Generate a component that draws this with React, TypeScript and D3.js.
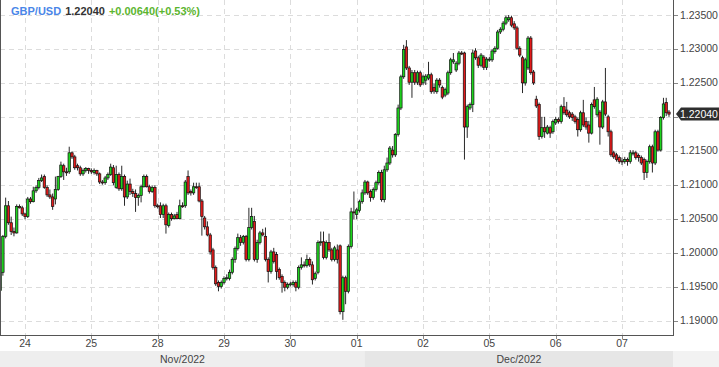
import React from "react";
import * as d3 from "d3";

// GBP/USD hourly candles, first candle = Nov 23 15:00
const opens = [1.1944,1.1971,1.2024,1.2069,1.2044,1.2031,1.2029,1.2068,1.2066,1.2057,1.2053,1.2079,1.2075,1.2091,1.2096,1.2106,1.2112,1.2096,1.2085,1.2082,1.2079,1.2093,1.2112,1.2128,1.2119,1.2119,1.2147,1.2141,1.2128,1.2125,1.2116,1.2121,1.2124,1.2121,1.2118,1.2121,1.2116,1.2104,1.2103,1.2110,1.2115,1.2125,1.2096,1.2115,1.2094,1.2112,1.2082,1.2101,1.2090,1.2087,1.2081,1.2084,1.2097,1.2112,1.2097,1.2090,1.2096,1.2069,1.2069,1.2056,1.2069,1.2040,1.2056,1.2050,1.2056,1.2050,1.2069,1.2069,1.2112,1.2090,1.2088,1.2097,1.2097,1.2076,1.2051,1.2038,1.2026,1.2004,1.1978,1.1956,1.1950,1.1956,1.1962,1.1962,1.1971,1.1990,1.2006,1.2022,1.2015,1.2024,1.1990,1.2037,1.2046,1.1990,1.2015,1.2029,1.2024,1.1990,1.1972,1.2001,1.1997,1.1975,1.1965,1.1956,1.1949,1.1953,1.1953,1.1956,1.1949,1.1978,1.1982,1.1981,1.1990,1.1982,1.1962,1.1971,1.2015,1.2016,1.1993,1.2015,1.2004,1.1990,1.2004,1.2010,1.1913,1.1963,1.1943,1.2009,1.2060,1.2056,1.2062,1.2075,1.2088,1.2104,1.2090,1.2081,1.2093,1.2103,1.2118,1.2078,1.2122,1.2132,1.2151,1.2144,1.2174,1.2213,1.2259,1.2303,1.2272,1.2251,1.2265,1.2251,1.2265,1.2250,1.2254,1.2257,1.2262,1.2243,1.2237,1.2254,1.2243,1.2232,1.2235,1.2265,1.2281,1.2269,1.2279,1.2294,1.2294,1.2185,1.2213,1.2218,1.2297,1.2287,1.2276,1.2288,1.2273,1.2284,1.2284,1.2296,1.2301,1.2325,1.2329,1.2338,1.2343,1.2346,1.2337,1.2331,1.2301,1.2287,1.2250,1.2272,1.2316,1.2266,1.2226,1.2218,1.2171,1.2184,1.2176,1.2184,1.2178,1.2191,1.2196,1.2193,1.2215,1.2210,1.2206,1.2204,1.2200,1.2196,1.2181,1.2206,1.2193,1.2188,1.2176,1.2225,1.2203,1.2207,1.2185,1.2222,1.2200,1.2178,1.2147,1.2144,1.2140,1.2135,1.2134,1.2137,1.2134,1.2146,1.2147,1.2143,1.2140,1.2137,1.2118,1.2134,1.2156,1.2132,1.2178,1.2151,1.2199,1.2221,1.2207];
const highs = [1.1978,1.2026,1.2081,1.2076,1.2053,1.2037,1.2071,1.2071,1.2069,1.2059,1.2082,1.2082,1.2097,1.2099,1.2110,1.2115,1.2115,1.2099,1.2093,1.2087,1.2112,1.2113,1.2134,1.2131,1.2125,1.2156,1.2149,1.2144,1.2131,1.2128,1.2124,1.2126,1.2125,1.2124,1.2124,1.2122,1.2118,1.2107,1.2113,1.2118,1.2131,1.2129,1.2128,1.2118,1.2128,1.2115,1.2106,1.2109,1.2094,1.2093,1.2087,1.2100,1.2115,1.2115,1.2100,1.2099,1.2099,1.2072,1.2074,1.2072,1.2072,1.2059,1.2059,1.2057,1.2060,1.2078,1.2074,1.2107,1.2121,1.2093,1.2103,1.2103,1.2103,1.2079,1.2054,1.2046,1.2029,1.2007,1.1981,1.1959,1.1959,1.1965,1.1968,1.1975,1.1993,1.2009,1.2028,1.2026,1.2026,1.2026,1.2066,1.2066,1.2054,1.2019,1.2032,1.2035,1.2037,1.1993,1.2004,1.2007,1.2001,1.1978,1.1968,1.1959,1.1956,1.1957,1.1959,1.1959,1.1981,1.1993,1.1987,1.1997,1.1993,1.1987,1.1972,1.2018,1.2031,1.2031,1.2018,1.2028,1.2007,1.2010,1.2012,1.2012,1.1966,1.1966,1.2012,1.2066,1.2090,1.2066,1.2078,1.2093,1.2107,1.2106,1.2093,1.2096,1.2106,1.2121,1.2122,1.2128,1.2140,1.2157,1.2157,1.2176,1.2218,1.2262,1.2306,1.2313,1.2275,1.2269,1.2269,1.2268,1.2268,1.2262,1.2263,1.2281,1.2265,1.2249,1.2257,1.2257,1.2246,1.2243,1.2268,1.2287,1.2294,1.2282,1.2297,1.2297,1.2296,1.2218,1.2221,1.2299,1.2301,1.2290,1.2294,1.2291,1.2288,1.2288,1.2300,1.2304,1.2328,1.2332,1.2341,1.2349,1.2350,1.2349,1.2341,1.2334,1.2304,1.2290,1.2287,1.2319,1.2319,1.2269,1.2231,1.2221,1.2200,1.2200,1.2188,1.2187,1.2196,1.2200,1.2199,1.2218,1.2229,1.2222,1.2209,1.2207,1.2203,1.2199,1.2209,1.2225,1.2199,1.2194,1.2221,1.2244,1.2229,1.2210,1.2225,1.2272,1.2203,1.2181,1.2150,1.2147,1.2143,1.2140,1.2141,1.2140,1.2151,1.2151,1.2150,1.2146,1.2143,1.2140,1.2137,1.2159,1.2159,1.2181,1.2181,1.2201,1.2228,1.2228,1.2210];
const lows = [1.1940,1.1966,1.2021,1.2041,1.2026,1.2024,1.2028,1.2065,1.2054,1.2049,1.2051,1.2072,1.2074,1.2088,1.2093,1.2104,1.2094,1.2082,1.2079,1.2063,1.2071,1.2091,1.2110,1.2107,1.2113,1.2116,1.2138,1.2122,1.2121,1.2113,1.2113,1.2118,1.2116,1.2116,1.2115,1.2113,1.2101,1.2100,1.2100,1.2107,1.2113,1.2099,1.2094,1.2091,1.2091,1.2069,1.2079,1.2085,1.2082,1.2060,1.2069,1.2074,1.2096,1.2096,1.2087,1.2088,1.2066,1.2065,1.2051,1.2051,1.2028,1.2037,1.2047,1.2049,1.2049,1.2049,1.2066,1.2066,1.2085,1.2084,1.2085,1.2094,1.2074,1.2025,1.2034,1.2024,1.1997,1.1975,1.1951,1.1943,1.1947,1.1953,1.1959,1.1959,1.1968,1.1985,1.2003,1.2010,1.2012,1.1987,1.1987,1.2034,1.1987,1.1985,1.2012,1.2024,1.1987,1.1956,1.1969,1.1984,1.1960,1.1960,1.1941,1.1943,1.1946,1.1950,1.1950,1.1943,1.1946,1.1975,1.1978,1.1978,1.1979,1.1953,1.1959,1.1968,1.2010,1.1990,1.1990,1.2001,1.1987,1.1987,1.1984,1.1909,1.1901,1.1924,1.1940,1.2006,1.2049,1.2049,1.2059,1.2072,1.2085,1.2085,1.2075,1.2078,1.2090,1.2100,1.2075,1.2074,1.2119,1.2129,1.2140,1.2141,1.2171,1.2210,1.2256,1.2269,1.2247,1.2228,1.2247,1.2247,1.2244,1.2247,1.2247,1.2254,1.2234,1.2234,1.2234,1.2243,1.2226,1.2229,1.2232,1.2262,1.2278,1.2266,1.2276,1.2291,1.2137,1.2169,1.2210,1.2207,1.2284,1.2272,1.2273,1.2269,1.2269,1.2281,1.2281,1.2293,1.2299,1.2322,1.2326,1.2335,1.2340,1.2332,1.2328,1.2299,1.2288,1.2235,1.2246,1.2269,1.2262,1.2247,1.2213,1.2166,1.2168,1.2169,1.2174,1.2169,1.2175,1.2188,1.2190,1.2190,1.2203,1.2200,1.2197,1.2194,1.2190,1.2171,1.2178,1.2185,1.2181,1.2162,1.2174,1.2212,1.2200,1.2159,1.2182,1.2201,1.2171,1.2141,1.2138,1.2134,1.2131,1.2129,1.2131,1.2128,1.2131,1.2143,1.2137,1.2134,1.2129,1.2107,1.2110,1.2131,1.2118,1.2129,1.2149,1.2149,1.2196,1.2201,1.2200];
const closes = [1.1971,1.2024,1.2069,1.2044,1.2031,1.2029,1.2068,1.2066,1.2057,1.2053,1.2079,1.2075,1.2091,1.2096,1.2106,1.2110,1.2096,1.2085,1.2082,1.2068,1.2093,1.2112,1.2129,1.2119,1.2118,1.2147,1.2141,1.2125,1.2125,1.2116,1.2121,1.2124,1.2121,1.2119,1.2121,1.2116,1.2104,1.2103,1.2110,1.2115,1.2126,1.2103,1.2115,1.2094,1.2112,1.2082,1.2101,1.2090,1.2087,1.2081,1.2084,1.2097,1.2112,1.2097,1.2090,1.2096,1.2069,1.2068,1.2056,1.2069,1.2041,1.2056,1.2050,1.2054,1.2050,1.2069,1.2068,1.2104,1.2088,1.2088,1.2097,1.2096,1.2076,1.2053,1.2038,1.2026,1.2001,1.1978,1.1954,1.1950,1.1956,1.1962,1.1963,1.1971,1.1990,1.2006,1.2022,1.2015,1.2024,1.1990,1.2037,1.2053,1.1990,1.2015,1.2029,1.2026,1.1990,1.1972,1.2001,1.1987,1.1972,1.1963,1.1956,1.1949,1.1953,1.1954,1.1956,1.1949,1.1978,1.1982,1.1981,1.1990,1.1982,1.1960,1.1969,1.2015,1.2016,1.1993,1.2015,1.2004,1.1990,1.2007,1.1990,1.1913,1.1963,1.1943,1.2009,1.2060,1.2059,1.2063,1.2075,1.2088,1.2104,1.2088,1.2081,1.2093,1.2103,1.2118,1.2078,1.2122,1.2132,1.2154,1.2144,1.2174,1.2213,1.2259,1.2299,1.2272,1.2251,1.2265,1.2251,1.2265,1.2247,1.2259,1.2260,1.2262,1.2237,1.2238,1.2254,1.2247,1.2229,1.2240,1.2265,1.2284,1.2284,1.2279,1.2294,1.2293,1.2185,1.2215,1.2218,1.2294,1.2287,1.2276,1.2291,1.2273,1.2285,1.2285,1.2297,1.2301,1.2325,1.2329,1.2338,1.2346,1.2346,1.2335,1.2331,1.2301,1.2291,1.2250,1.2284,1.2316,1.2265,1.2250,1.2216,1.2171,1.2184,1.2178,1.2185,1.2176,1.2193,1.2196,1.2193,1.2215,1.2206,1.2203,1.2200,1.2199,1.2193,1.2181,1.2206,1.2188,1.2185,1.2176,1.2218,1.2215,1.2226,1.2185,1.2222,1.2204,1.2178,1.2144,1.2141,1.2137,1.2134,1.2134,1.2137,1.2134,1.2147,1.2147,1.2140,1.2140,1.2132,1.2118,1.2134,1.2156,1.2132,1.2178,1.2151,1.2199,1.2219,1.2206,1.2204];

const dayLabels = ["24", "25", "28", "29", "30", "01", "02", "05", "06", "07"];
const dayStartIndex = [9, 33, 57, 81, 105, 129, 153, 177, 201, 225];
const priceTicks = [1.19, 1.195, 1.2, 1.205, 1.21, 1.215, 1.22, 1.225, 1.23, 1.235];
const monthLabels = ["Nov/2022", "Dec/2022"];
const monthStartIndex = [-9, 132];
const symbol = "GBP/USD";
const lastPrice = 1.2204;
const change = 0.0064;
const changePct = 0.53;

const W = 719;
const H = 367;
const PL = 0;
const PR = 673;
const PT = 0;
const PB = 335;

export default function App() {
  const x = d3.scaleLinear().domain([9, 225]).range([25, 622]);
  const y = d3.scaleLinear().domain([1.19, 1.235]).range([320.5, 15]);
  const font = "'Liberation Sans', Arial, sans-serif";
  const up = "#1ed41e";
  const down = "#e31a1a";

  const candles = closes.map((c, i) => {
    const o = opens[i];
    const cx = x(i);
    const y1 = y(Math.max(o, c));
    const y2 = y(Math.min(o, c));
    const bh = Math.max(1, y2 - y1);
    return (
      <g key={i}>
        <line x1={cx} x2={cx} y1={y(highs[i])} y2={y(lows[i])} stroke="#111" strokeWidth={0.9} />
        <rect x={cx - 1.2} y={y1} width={2.4} height={bh} fill={c >= o ? up : down} stroke="#111" strokeWidth={0.7} />
      </g>
    );
  });

  const fmt = d3.format(".5f");
  const ly = y(lastPrice);
  const monthEdges = monthStartIndex.map((m) => Math.max(PL, x(m)));
  const visibleTicks = priceTicks.filter((p) => Math.abs(y(p) - ly) > 11);

  return (
    <svg width={W} height={H} style={{ position: "absolute", left: 0, top: 0, background: "#fff" }} fontFamily={font}>
      <rect x={0} y={0} width={W} height={H} fill="#ffffff" />
      {/* month band */}
      <rect x={0} y={351} width={W} height={16} fill="#f2f2f2" />
      {monthLabels.map((m, k) => {
        const a = monthEdges[k];
        const b = k + 1 < monthEdges.length ? monthEdges[k + 1] : PR;
        return (
          <g key={m}>
            <rect x={a} y={351} width={b - a} height={16} fill={k === 1 ? "#e6e6e6" : "#eeeeee"} />
            <text x={(a + b) / 2} y={363} fontSize={10.5} fill="#444" textAnchor="middle">{m}</text>
          </g>
        );
      })}
      {/* grid */}
      {priceTicks.map((p) => (
        <line key={p} x1={PL} x2={PR} y1={Math.round(y(p)) + 0.5} y2={Math.round(y(p)) + 0.5} stroke="#dcdcdc" strokeDasharray="5,4" />
      ))}
      {dayStartIndex.map((d) => (
        <line key={d} x1={Math.round(x(d)) + 0.5} x2={Math.round(x(d)) + 0.5} y1={PT} y2={PB} stroke="#dcdcdc" strokeDasharray="5,4" />
      ))}
      {candles}
      {/* frame */}
      <line x1={PL + 0.5} x2={PL + 0.5} y1={PT} y2={PB} stroke="#555" />
      <line x1={PR + 0.5} x2={PR + 0.5} y1={PT} y2={PB + 0.5} stroke="#555" />
      <line x1={PL} x2={PR + 1} y1={PB + 0.5} y2={PB + 0.5} stroke="#555" />
      {/* y axis */}
      {priceTicks.map((p) => (
        <line key={"t" + p} x1={PR + 1} x2={PR + 5} y1={Math.round(y(p)) + 0.5} y2={Math.round(y(p)) + 0.5} stroke="#888" />
      ))}
      {visibleTicks.map((p) => (
        <text key={"l" + p} x={680} y={y(p) + 3.5} fontSize={10.5} fill="#444">{fmt(p)}</text>
      ))}
      {/* x axis */}
      {dayStartIndex.map((d, k) => (
        <g key={"x" + d}>
          <line x1={Math.round(x(d)) + 0.5} x2={Math.round(x(d)) + 0.5} y1={PB + 1} y2={PB + 4} stroke="#888" />
          <text x={x(d)} y={347} fontSize={10.5} fill="#444" textAnchor="middle">{dayLabels[k]}</text>
        </g>
      ))}
      {/* last price marker */}
      <path d={`M${PR + 3},${ly} L${PR + 8},${ly - 6.5} L${W},${ly - 6.5} L${W},${ly + 6.5} L${PR + 8},${ly + 6.5} Z`} fill="#2e2e2e" />
      <text x={680} y={ly + 4} fontSize={10.5} fill="#fff">{fmt(lastPrice)}</text>
      {/* header */}
      <text x={11} y={15} fontSize={11} fontWeight="bold">
        <tspan fill="#4a86e8">{symbol}</tspan>
        <tspan fill="#333" dx={4}>{fmt(lastPrice)}</tspan>
        <tspan fill="#5cb52f" dx={4}>{"+" + fmt(change) + "(+" + changePct.toFixed(2) + "%)"}</tspan>
      </text>
    </svg>
  );
}
